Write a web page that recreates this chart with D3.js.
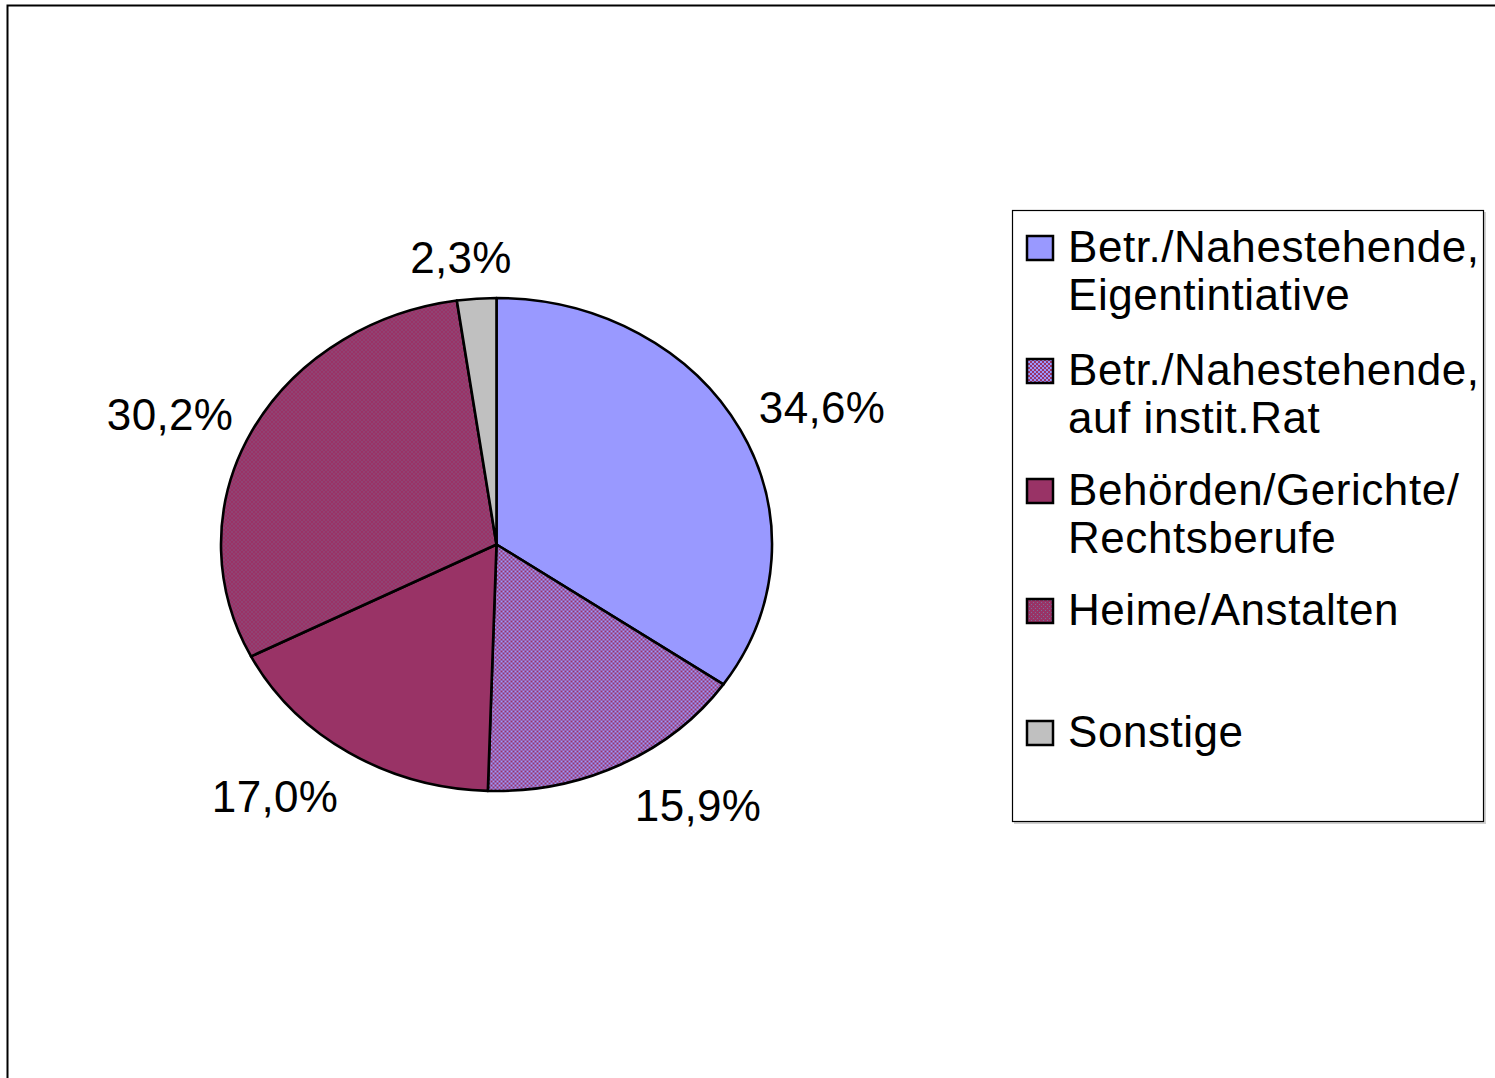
<!DOCTYPE html>
<html>
<head>
<meta charset="utf-8">
<script src="https://cdn.jsdelivr.net/npm/d3@7"></script>
<style>
  html, body { margin: 0; padding: 0; background: #fff; }
  svg { display: block; font-family: "Liberation Sans", Arial, sans-serif; }
</style>
</head>
<body>
<svg class="pie" width="1495" height="1078"></svg>
<script>
(function () {

    'use strict';

    var categories = [
        ['Betr./Nahestehende,', 'Eigentintiative'],
        ['Betr./Nahestehende,', 'auf instit.Rat'],
        ['Behörden/Gerichte/', 'Rechtsberufe'],
        ['Heime/Anstalten'],
        ['Sonstige']
    ];
    var values = [34.6, 15.9, 17.0, 30.2, 2.3];
    var labels = ['34,6%', '15,9%', '17,0%', '30,2%', '2,3%'];
    var fills = ['#9999ff', 'checker', '#993366', 'dots', '#c0c0c0'];

    var svg = d3.select("svg.pie");

    var cx = 496.5, cy = 544.5, rx = 275.5, ry = 246.5;

    // patterns (a second copy for the squashed pie so pixels stay square)
    var defs = svg.append("defs");
    function makePatterns(suffix, transform) {
        var checker = defs.append("pattern").attr("id", "checker" + suffix)
            .attr("patternUnits", "userSpaceOnUse").attr("width", 4).attr("height", 4)
            .attr("patternTransform", transform);
        checker.append("rect").attr("width", 4).attr("height", 4).attr("fill", "#993366");
        checker.append("rect").attr("width", 2).attr("height", 2).attr("fill", "#9999ff");
        checker.append("rect").attr("x", 2).attr("y", 2).attr("width", 2).attr("height", 2).attr("fill", "#9999ff");

        var dots = defs.append("pattern").attr("id", "dots" + suffix)
            .attr("patternUnits", "userSpaceOnUse").attr("width", 4).attr("height", 4)
            .attr("patternTransform", transform);
        dots.append("rect").attr("width", 4).attr("height", 4).attr("fill", "#993366");
        dots.append("rect").attr("x", 1).attr("y", 1).attr("width", 1).attr("height", 1).attr("fill", "#7a6f9a");
        dots.append("rect").attr("x", 3).attr("y", 3).attr("width", 1).attr("height", 1).attr("fill", "#7a6f9a");
    }
    makePatterns("", null);
    makePatterns("-pie", "scale(1," + (rx / ry) + ")");

    function fillFor(i, suffix) {
        var f = fills[i];
        return f.charAt(0) === '#' ? f : "url(#" + f + suffix + ")";
    }

    // outer frame
    svg.append("rect")
        .attr("x", 7.5).attr("y", 5.5)
        .attr("width", 1500).attr("height", 1100)
        .attr("fill", "none").attr("stroke", "#000").attr("stroke-width", 2);

    // pie, drawn as circle then squashed into an ellipse
    var pie = d3.pie().sort(null).value(function (d) { return d; });
    var arcs = pie(values);
    var arc = d3.arc().innerRadius(0).outerRadius(rx);

    var g = svg.append("g")
        .attr("transform", "translate(" + cx + "," + cy + ") scale(1," + (ry / rx) + ")");

    g.selectAll("path")
        .data(arcs)
        .enter().append("path")
        .attr("d", arc)
        .attr("fill", function (d, i) { return fillFor(i, "-pie"); })
        .attr("stroke", "#000")
        .attr("stroke-width", 2.6)
        .attr("vector-effect", "non-scaling-stroke")
        .attr("stroke-linejoin", "round");

    // value labels
    var labelPos = [[822, 408], [698, 806], [275, 797], [170, 415], [461, 258]];
    svg.append("g")
        .attr("font-size", 44)
        .attr("letter-spacing", 0.3)
        .attr("text-anchor", "middle")
        .selectAll("text")
        .data(labels)
        .enter().append("text")
        .attr("x", function (d, i) { return labelPos[i][0]; })
        .attr("y", function (d, i) { return labelPos[i][1]; })
        .attr("dy", "0.35em")
        .text(function (d) { return d; });

    // legend
    svg.append("rect")
        .attr("x", 1014).attr("y", 212)
        .attr("width", 472).attr("height", 612)
        .attr("fill", "#d0d0d0");
    svg.append("rect")
        .attr("x", 1012.5).attr("y", 210.5)
        .attr("width", 471).attr("height", 611)
        .attr("fill", "#fff").attr("stroke", "#000").attr("stroke-width", 1.2);

    var entryY = [262, 385, 505, 625, 747];
    var legend = svg.append("g")
        .attr("font-size", 44)
        .attr("letter-spacing", 0.55)
        .selectAll("g")
        .data(categories)
        .enter().append("g")
        .attr("transform", function (d, i) { return "translate(0," + entryY[i] + ")"; });

    legend.append("rect")
        .attr("x", 1027).attr("y", -26)
        .attr("width", 26).attr("height", 24)
        .attr("fill", function (d, i) { return fillFor(i, ""); })
        .attr("stroke", "#000").attr("stroke-width", 2.5);

    legend.selectAll("text")
        .data(function (d) { return d; })
        .enter().append("text")
        .attr("x", 1068)
        .attr("y", function (d, j) { return j * 48; })
        .text(function (d) { return d; });
})();
</script>
</body>
</html>
